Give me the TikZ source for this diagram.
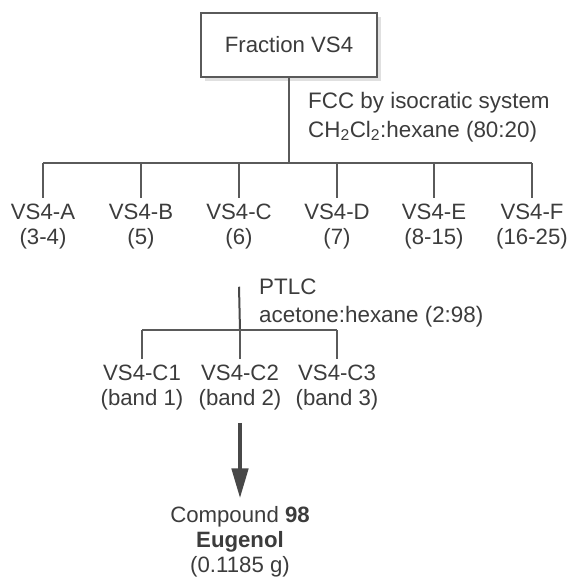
\documentclass[tikz,border=0pt]{standalone}
\usepackage{fontspec}
\setmainfont{Liberation Sans}
\usetikzlibrary{arrows.meta}
\definecolor{ink}{HTML}{3C3C3C}
\definecolor{wire}{HTML}{5A5A5A}
\begin{document}
\begin{tikzpicture}[x=1pt,y=-1pt,
  every node/.style={text=ink,font=\fontsize{22.2}{25}\selectfont,inner sep=0pt},
  lab/.style={align=center},
  note/.style={align=left,anchor=west,font=\fontsize{22.4}{28.5}\selectfont},
  wire/.style={draw=wire,line width=1.4pt},
  thick wire/.style={draw=wire!80!black,line width=2pt},
  flow/.style={draw=wire!80!black,line width=4.5pt,-{Triangle[length=30pt,width=16pt]}}]
\useasboundingbox (0,0) rectangle (571,583);
% shadow and box
\fill[black!12] (205,17) rectangle (381,81);
\node[draw=wire,line width=1.4pt,fill=white,minimum width=176pt,minimum height=64pt] (top) at (289,45) {Fraction VS4};
\node[note] (fcc) at (308,117) {FCC by isocratic system\\CH\textsubscript{2}Cl\textsubscript{2}:hexane (80:20)};
\coordinate (hub) at (289,163);
\node[lab] (a) at (43,227) {VS4-A\\(3-4)};
\node[lab] (b) at (141,227) {VS4-B\\(5)};
\node[lab] (c) at (239,227) {VS4-C\\(6)};
\node[lab] (d) at (337,227) {VS4-D\\(7)};
\node[lab] (e) at (434,227) {VS4-E\\(8-15)};
\node[lab] (f) at (532,227) {VS4-F\\(16-25)};
\draw[wire] (top.south) -- (hub);
\draw[wire] (a|-hub) -- (f|-hub);
\foreach \n in {a,b,c,d,e,f} \draw[wire] (\n|-hub) -- ([yshift=6pt]\n.north);
% PTLC
\node[note] (ptlc) at (259,303) {PTLC\\acetone:hexane (2:98)};
\coordinate (hub2) at (240,330);
\node[lab] (c1) at (142,388) {VS4-C1\\(band 1)};
\node[lab] (c2) at (240,388) {VS4-C2\\(band 2)};
\node[lab] (c3) at (337,388) {VS4-C3\\(band 3)};
\draw[thick wire] (c.south) ++(0,37) -- (hub2);
\draw[wire] (c1|-hub2) -- (c3|-hub2);
\foreach \n in {c1,c2,c3} \draw[wire] (\n|-hub2) -- ([yshift=6pt]\n.north);
% result
\node[lab] (cmp) at (240,542) {Compound \textbf{98}\\\textbf{Eugenol}\\(0.1185 g)};
\draw[flow] (c2.south) ++(0,12) -- ([yshift=8pt]cmp.north);
\end{tikzpicture}
\end{document}
